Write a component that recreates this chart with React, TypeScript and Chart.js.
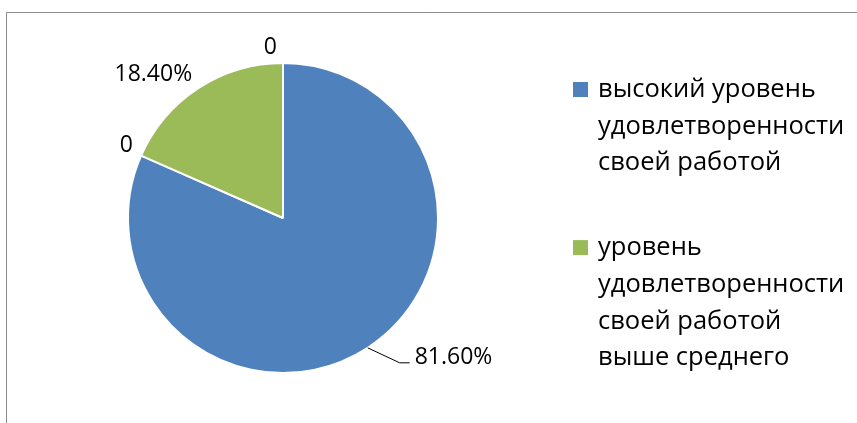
import React, { useEffect, useRef } from "react";
import { Chart, registerables } from "chart.js";

Chart.register(...registerables);

const categories = [
  "высокий уровень удовлетворенности своей работой",
  "средний уровень удовлетворенности своей работой",
  "уровень удовлетворенности своей работой выше среднего",
  "низкий уровень удовлетворенности своей работой",
];
const values = [81.6, 0, 18.4, 0];
const valueLabels = ["81.60%", "0", "18.40%", "0"];
const colors = ["#4F81BD", "#C0504D", "#9BBB59", "#8064A2"];
const legendIndexes = [0, 2];
const legendLines = [
  ["высокий уровень", "удовлетворенности", "своей работой"],
  ["уровень", "удовлетворенности", "своей работой", "выше среднего"],
];

const FONT = "'Open Sans', 'Noto Sans', sans-serif";

const framePlugin = {
  id: "frame",
  beforeDraw(chart: any) {
    const ctx = chart.ctx;
    ctx.save();
    ctx.fillStyle = "#ffffff";
    ctx.fillRect(0, 0, chart.width, chart.height);
    ctx.strokeStyle = "#8c8c8c";
    ctx.lineWidth = 1;
    ctx.beginPath();
    ctx.moveTo(6.5, chart.height);
    ctx.lineTo(6.5, 12.5);
    ctx.lineTo(chart.width, 12.5);
    ctx.stroke();
    ctx.restore();
  },
};

const labelPlugin = {
  id: "pieLabels",
  afterDatasetsDraw(chart: any) {
    const ctx = chart.ctx;
    const meta = chart.getDatasetMeta(0);
    ctx.save();
    ctx.font = `23px ${FONT}`;
    ctx.fillStyle = "#000000";
    ctx.strokeStyle = "#000000";
    ctx.lineWidth = 1;
    meta.data.forEach((arc: any, i: number) => {
      const p = arc.getProps(["x", "y", "startAngle", "endAngle", "outerRadius"], true);
      const mid = (p.startAngle + p.endAngle) / 2;
      const dx = Math.cos(mid);
      const dy = Math.sin(mid);
      const text = valueLabels[i];
      if (dy > 0.05) {
        const ex = p.x + p.outerRadius * dx;
        const ey = p.y + p.outerRadius * dy;
        const bx = ex + 32;
        const by = ey + 15;
        ctx.beginPath();
        ctx.moveTo(ex, ey);
        ctx.lineTo(bx, by);
        ctx.lineTo(bx + 10, by);
        ctx.stroke();
        ctx.textAlign = "left";
        ctx.textBaseline = "alphabetic";
        ctx.fillText(text, bx + 15, by + 1);
      } else {
        const d = p.outerRadius + 9;
        const gap = 6 * Math.pow(1 - Math.abs(dx), 2);
        const left = dx <= 0.001;
        const tx = p.x + d * dx + (left ? -gap : gap);
        const ty = p.y + d * dy;
        ctx.textAlign = left ? "right" : "left";
        ctx.textBaseline = "alphabetic";
        ctx.fillText(text, tx, ty);
      }
    });
    ctx.restore();
  },
};

const legendPlugin = {
  id: "sideLegend",
  afterDraw(chart: any) {
    const ctx = chart.ctx;
    ctx.save();
    ctx.font = `25.5px ${FONT}`;
    ctx.fillStyle = "#000000";
    ctx.textAlign = "left";
    ctx.textBaseline = "alphabetic";
    const boxX = 573;
    const textX = 598;
    const lineH = 36.7;
    let baseline = 97;
    legendIndexes.forEach((idx, k) => {
      ctx.fillStyle = colors[idx];
      ctx.fillRect(boxX, baseline - 15, 15, 15);
      ctx.fillStyle = "#000000";
      legendLines[k].forEach((line, j) => {
        ctx.fillText(line, textX, baseline + j * lineH);
      });
      baseline += legendLines[k].length * lineH + 48;
    });
    ctx.restore();
  },
};

export default function App() {
  const ref = useRef<HTMLCanvasElement | null>(null);
  useEffect(() => {
    if (!ref.current) return;
    const chart = new Chart(ref.current, {
      type: "pie",
      data: {
        labels: categories,
        datasets: [
          {
            data: values,
            backgroundColor: colors,
            borderColor: "#ffffff",
            borderWidth: 2,
          },
        ],
      },
      options: {
        responsive: false,
        animation: false,
        devicePixelRatio: 1,
        layout: { padding: { left: 127, right: 418, top: 62, bottom: 49 } },
        plugins: {
          legend: { display: false },
          tooltip: { enabled: false },
        },
      },
      plugins: [framePlugin, labelPlugin, legendPlugin],
    });
    return () => chart.destroy();
  }, []);
  return (
    <div style={{ position: "fixed", left: 0, top: 0, width: 857, height: 423 }}>
      <canvas ref={ref} width={857} height={423} style={{ display: "block" }} />
    </div>
  );
}
